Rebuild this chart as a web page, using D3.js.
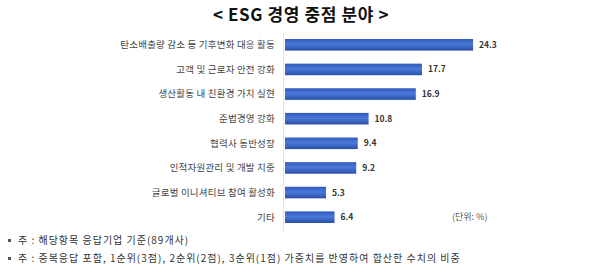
<!DOCTYPE html>
<html>
<head>
<meta charset="utf-8">
<script src="https://cdn.jsdelivr.net/npm/d3@7"></script>
<style>
  body { margin: 0; background: #fff; }
  svg { display: block; font-family: "Noto Sans CJK KR", "Noto Sans", sans-serif; }
</style>
</head>
<body>
<div id="chart"></div>
<script>
const categories = [
  "탄소배출량 감소 등 기후변화 대응 활동",
  "고객 및 근로자 안전 강화",
  "생산활동 내 친환경 가치 실현",
  "준법경영 강화",
  "협력사 동반성장",
  "인적자원관리 및 개발 치중",
  "글로벌 이니셔티브 참여 활성화",
  "기타"
];
const values = [24.3, 17.7, 16.9, 10.8, 9.4, 9.2, 5.3, 6.4];
const notes = [
  "주 : 해당항목 응답기업 기준(89개사)",
  "주 : 중복응답 포함, 1순위(3점), 2순위(2점), 3순위(1점) 가중치를 반영하여 합산한 수치의 비중"
];

const width = 600, height = 269;

const svg = d3.select("#chart").append("svg")
  .attr("width", width)
  .attr("height", height);

// bar gradient
const grad = svg.append("defs").append("linearGradient")
  .attr("id", "barGrad")
  .attr("x1", 0).attr("y1", 0).attr("x2", 0).attr("y2", 1);
grad.append("stop").attr("offset", "0%").attr("stop-color", "#3059bd");
grad.append("stop").attr("offset", "45%").attr("stop-color", "#4a79d9");
grad.append("stop").attr("offset", "100%").attr("stop-color", "#2a4ea8");

svg.append("text")
  .attr("x", 301)
  .attr("y", 21)
  .attr("text-anchor", "middle")
  .attr("font-size", 17)
  .attr("font-weight", "bold")
  .attr("fill", "#111")
  .attr("letter-spacing", 0.6)
  .text("< ESG 경영 중점 분야 >");

const x = d3.scaleLinear()
  .domain([0, 30])
  .range([285, 285 + 30 * 7.74]);

const y = d3.scaleBand()
  .domain(categories)
  .range([32.5, 229.5])
  .paddingInner(0.53)
  .paddingOuter(0.265);

// light axis line
svg.append("line")
  .attr("x1", x(0) - 1.5).attr("x2", x(0) - 1.5)
  .attr("y1", 33).attr("y2", 231)
  .attr("stroke", "#e4e4e4")
  .attr("stroke-width", 1);

const rows = categories.map((c, i) => ({ cat: c, val: values[i] }));

svg.selectAll("rect.bar")
  .data(rows)
  .join("rect")
  .attr("class", "bar")
  .attr("x", x(0))
  .attr("y", d => y(d.cat))
  .attr("width", d => x(d.val) - x(0))
  .attr("height", y.bandwidth())
  .attr("fill", "url(#barGrad)");

svg.selectAll("text.cat")
  .data(rows)
  .join("text")
  .attr("class", "cat")
  .attr("x", 275)
  .attr("y", d => y(d.cat) + y.bandwidth() / 2)
  .attr("dy", "0.35em")
  .attr("text-anchor", "end")
  .attr("font-size", 9.5)
  .attr("fill", "#444")
  .attr("letter-spacing", 0.2)
  .text(d => d.cat);

svg.selectAll("text.val")
  .data(rows)
  .join("text")
  .attr("class", "val")
  .attr("x", d => x(d.val) + 6)
  .attr("y", d => y(d.cat) + y.bandwidth() / 2)
  .attr("dy", "0.35em")
  .attr("font-size", 8.5)
  .attr("font-weight", "bold")
  .attr("fill", "#333")
  .text(d => d.val.toFixed(1));

svg.append("text")
  .attr("x", 452)
  .attr("y", y("기타") + y.bandwidth() / 2)
  .attr("dy", "0.35em")
  .attr("font-size", 9)
  .attr("fill", "#555")
  .text("(단위: %)");

notes.forEach((n, i) => {
  const ny = 244 + i * 18;
  svg.append("rect")
    .attr("x", 8).attr("y", ny - 5)
    .attr("width", 3).attr("height", 3)
    .attr("fill", "#555");
  svg.append("text")
    .attr("x", 18)
    .attr("y", ny)
    .attr("font-size", 10)
    .attr("fill", "#333")
    .attr("letter-spacing", 1)
    .text(n);
});
</script>
</body>
</html>
